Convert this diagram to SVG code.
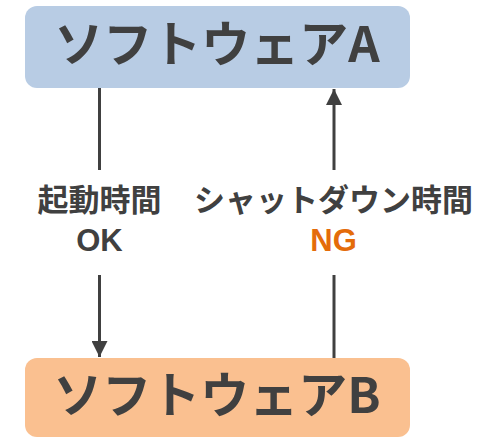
<svg xmlns="http://www.w3.org/2000/svg" width="487" height="437" viewBox="0 0 487 437">
<style>
.t{font-family:"Noto Sans CJK JP","Noto Sans",sans-serif;font-weight:bold;fill:#404040;text-anchor:middle}
.lat{font-family:"Liberation Sans","Noto Sans",sans-serif}
.big{font-size:49px}
.lbl{font-size:31px}
.line{stroke:#404040;stroke-width:3;fill:none}
</style>
<defs>
<marker id="ah" viewBox="0 0 16 16" refX="16" refY="8" markerWidth="16" markerHeight="16" markerUnits="userSpaceOnUse" orient="auto">
<path d="M0,0 L16,8 L0,16 z" fill="#404040"/>
</marker>
</defs>
<g id="connectors">
<path class="line" d="M99.5,88 V170"/>
<path class="line" d="M99.5,275 V357" marker-end="url(#ah)"/>
<path class="line" d="M334,358 V275"/>
<path class="line" d="M334,170 V89" marker-end="url(#ah)"/>
</g>
<g id="softwareA">
<rect x="25" y="6" width="385" height="82" rx="12" fill="#b8cce4"/>
<text class="t big" x="217" y="62">ソフトウェアA</text>
</g>
<g id="softwareB">
<rect x="25" y="358" width="385" height="79" rx="12" fill="#fac090"/>
<text class="t big" x="217" y="413">ソフトウェアB</text>
</g>
<g id="label-startup">
<text class="t lbl" x="99.5" y="211">起動時間</text>
<text class="t lbl lat" x="99.5" y="251">OK</text>
</g>
<g id="label-shutdown">
<text class="t lbl" x="333.5" y="211">シャットダウン時間</text>
<text class="t lbl lat" x="333.5" y="251" style="fill:#e46c0a">NG</text>
</g>
</svg>
